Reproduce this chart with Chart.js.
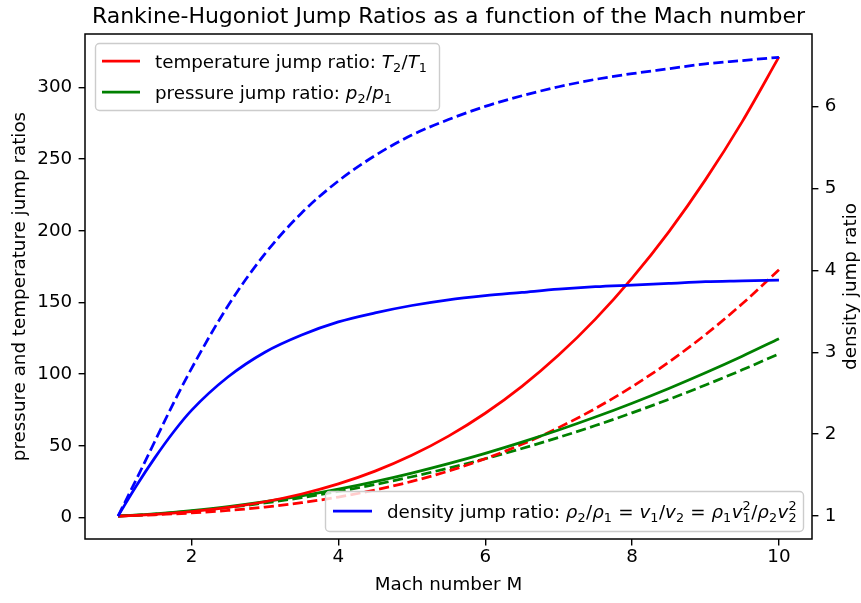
<!DOCTYPE html>
<html>
<head>
<meta charset="utf-8">
<script src="https://cdn.jsdelivr.net/npm/chart.js@4/dist/chart.umd.min.js"></script>
<style>
  html, body { margin: 0; padding: 0; background: #fff; }
</style>
</head>
<body>
<canvas id="jumpChart" width="861" height="603"></canvas>
<script>
// Mach numbers sampled along the curves
const mach = [1, 1.25, 1.5, 1.75, 2, 2.5, 3, 3.5, 4, 4.5, 5, 5.5, 6, 6.5, 7, 7.5, 8, 8.5, 9, 9.5, 10];

// solid curves
const tempSolid = [1, 1.55, 2.24, 3.10, 4.16, 7.00, 11.0, 16.41, 23.45, 32.37, 43.41, 56.77, 72.72, 91.47, 113.3, 138.4, 167.0, 199.3, 235.7, 276.2, 321.3];
const pressSolid = [1, 1.70, 2.56, 3.58, 4.75, 7.56, 11.0, 15.06, 19.75, 25.06, 31.0, 37.56, 44.75, 52.56, 61.0, 70.06, 79.75, 90.06, 101.0, 112.56, 124.75];
const densSolid = [1, 1.37, 1.71, 2.02, 2.29, 2.70, 3.0, 3.21, 3.37, 3.48, 3.57, 3.64, 3.69, 3.73, 3.77, 3.80, 3.82, 3.84, 3.86, 3.87, 3.88];

// dashed curves
const tempDashed = [1, 1.42, 1.91, 2.48, 3.16, 4.90, 7.25, 10.32, 14.26, 19.17, 25.18, 32.42, 41.0, 51.05, 62.70, 76.06, 91.25, 108.4, 127.6, 149.1, 172.8];
const pressDashed = [1, 1.64, 2.43, 3.36, 4.43, 7.0, 10.14, 13.86, 18.14, 23.0, 28.43, 34.43, 41.0, 48.14, 55.86, 64.14, 73.0, 82.43, 92.43, 103.0, 114.14];
const densDashed = [1, 1.45, 1.91, 2.37, 2.80, 3.57, 4.20, 4.70, 5.09, 5.40, 5.65, 5.84, 6.00, 6.13, 6.24, 6.33, 6.40, 6.46, 6.52, 6.56, 6.60];

const xTicks = [2, 4, 6, 8, 10];
const leftTicks = [0, 50, 100, 150, 200, 250, 300];
const rightTicks = [1, 2, 3, 4, 5, 6];

const titleText = 'Rankine-Hugoniot Jump Ratios as a function of the Mach number';
const xLabel = 'Mach number M';
const leftLabel = 'pressure and temperature jump ratios';
const rightLabel = 'density jump ratio';

// legend labels, split into plain / italic / sub / sup pieces for the math
const tempLegend = [{t: 'temperature jump ratio: '}, {t: 'T', it: 1}, {t: '2', sub: 1}, {t: '/'}, {t: 'T', it: 1}, {t: '1', sub: 1}];
const pressLegend = [{t: 'pressure jump ratio: '}, {t: 'p', it: 1}, {t: '2', sub: 1}, {t: '/'}, {t: 'p', it: 1}, {t: '1', sub: 1}];
const densLegend = [{t: 'density jump ratio: '}, {t: 'ρ', it: 1}, {t: '2', sub: 1}, {t: '/'}, {t: 'ρ', it: 1}, {t: '1', sub: 1},
  {t: ' = '}, {t: 'v', it: 1}, {t: '1', sub: 1}, {t: '/'}, {t: 'v', it: 1}, {t: '2', sub: 1}, {t: ' = '},
  {t: 'ρ', it: 1}, {t: '1', sub: 1}, {t: 'v', it: 1}, {t: '1', sub: 1, sup: '2'}, {t: '/'},
  {t: 'ρ', it: 1}, {t: '2', sub: 1}, {t: 'v', it: 1}, {t: '2', sub: 1, sup: '2'}];

const FONT = 'DejaVu Sans';
const FS = 18.3;
Chart.defaults.font.family = FONT;
Chart.defaults.font.size = FS;
Chart.defaults.color = '#000';

const pts = (ys) => mach.map((m, i) => ({x: m, y: ys[i]}));
const dash = [10.2, 4.4];

function line(data, color, axis, dashed) {
  return {
    data: pts(data),
    borderColor: color,
    backgroundColor: color,
    borderWidth: 2.75,
    borderDash: dashed ? dash : [],
    pointRadius: 0,
    cubicInterpolationMode: 'monotone',
    yAxisID: axis,
    fill: false
  };
}

function richText(ctx, segs, x, yBase) {
  const small = FS * 0.7;
  for (const s of segs) {
    if (s.sub) {
      ctx.font = small + 'px "' + FONT + '"';
      const w1 = ctx.measureText(s.t).width;
      ctx.fillText(s.t, x, yBase + 4);
      let w2 = 0;
      if (s.sup) {
        w2 = ctx.measureText(s.sup).width;
        ctx.fillText(s.sup, x, yBase - 8);
      }
      x += Math.max(w1, w2) + 0.5;
    } else {
      ctx.font = (s.it ? 'italic ' : '') + FS + 'px "' + FONT + '"';
      ctx.fillText(s.t, x, yBase);
      x += ctx.measureText(s.t).width;
    }
  }
}

function legendBox(ctx, x0, y0, x1, y1) {
  ctx.save();
  ctx.beginPath();
  ctx.roundRect(x0 + 0.5, y0 + 0.5, x1 - x0, y1 - y0, 4);
  ctx.fillStyle = 'rgba(255,255,255,0.8)';
  ctx.fill();
  ctx.strokeStyle = '#cccccc';
  ctx.lineWidth = 1.4;
  ctx.stroke();
  ctx.restore();
}

function legendRow(ctx, color, segs, hx0, hx1, tx, yc) {
  ctx.save();
  ctx.strokeStyle = color;
  ctx.lineWidth = 2.75;
  ctx.beginPath();
  ctx.moveTo(hx0, yc);
  ctx.lineTo(hx1, yc);
  ctx.stroke();
  ctx.fillStyle = '#000';
  ctx.textBaseline = 'alphabetic';
  richText(ctx, segs, tx, yc + 6.5);
  ctx.restore();
}

const decorations = {
  id: 'decorations',
  afterDatasetsDraw(chart) {
    const ctx = chart.ctx;
    const a = chart.chartArea;
    // frame
    ctx.save();
    ctx.strokeStyle = '#000';
    ctx.lineWidth = 1.5;
    ctx.strokeRect(a.left, a.top, a.right - a.left, a.bottom - a.top);
    ctx.restore();

    // upper-left legend
    legendBox(ctx, 95, 43, 439, 110);
    legendRow(ctx, '#ff0000', tempLegend, 102, 140, 155, 61);
    legendRow(ctx, '#008000', pressLegend, 102, 140, 155, 92);

    // lower-right legend
    legendBox(ctx, 325, 491, 803, 531);
    legendRow(ctx, '#0000ff', densLegend, 333, 372, 387, 511);

    // title
    ctx.save();
    ctx.fillStyle = '#000';
    ctx.font = '22px "' + FONT + '"';
    ctx.textAlign = 'center';
    ctx.textBaseline = 'alphabetic';
    ctx.fillText(titleText, (a.left + a.right) / 2, 23);
    // right axis label, reading upward
    ctx.translate(851, (a.top + a.bottom) / 2);
    ctx.rotate(-Math.PI / 2);
    ctx.font = FS + 'px "' + FONT + '"';
    ctx.textBaseline = 'middle';
    ctx.fillText(rightLabel, 0, 0);
    ctx.restore();
  }
};

const tickGrid = {drawOnChartArea: false, color: '#000', tickLength: 6.4, lineWidth: 1.4};

new Chart(document.getElementById('jumpChart'), {
  type: 'line',
  data: {
    datasets: [
      line(densSolid, '#0000ff', 'yR', false),
      line(densDashed, '#0000ff', 'yR', true),
      line(tempSolid, '#ff0000', 'yL', false),
      line(pressSolid, '#008000', 'yL', false),
      line(tempDashed, '#ff0000', 'yL', true),
      line(pressDashed, '#008000', 'yL', true)
    ]
  },
  options: {
    responsive: false,
    animation: false,
    devicePixelRatio: 1,
    layout: {padding: {top: 34, left: 0, right: 0, bottom: 0}},
    plugins: {legend: {display: false}, tooltip: {enabled: false}, title: {display: false}},
    scales: {
      x: {
        type: 'linear',
        min: 0.55,
        max: 10.45,
        grid: tickGrid,
        border: {display: false},
        afterBuildTicks: (s) => { s.ticks = xTicks.map(v => ({value: v})); },
        afterFit: (s) => { s.height = 64; },
        ticks: {padding: 1, maxRotation: 0, autoSkip: false},
        title: {display: true, text: xLabel, padding: {top: 0, bottom: 7}}
      },
      yL: {
        type: 'linear',
        position: 'left',
        min: -15,
        max: 337.3,
        grid: tickGrid,
        border: {display: false},
        afterBuildTicks: (s) => { s.ticks = leftTicks.map(v => ({value: v})); },
        afterFit: (s) => { s.width = 85; },
        ticks: {padding: 6.4, autoSkip: false},
        title: {display: true, text: leftLabel, padding: {top: 9, bottom: 0}}
      },
      yR: {
        type: 'linear',
        position: 'right',
        min: 0.72,
        max: 6.884,
        grid: tickGrid,
        border: {display: false},
        afterBuildTicks: (s) => { s.ticks = rightTicks.map(v => ({value: v})); },
        afterFit: (s) => { s.width = 49; },
        ticks: {padding: 6.4, autoSkip: false}
      }
    }
  },
  plugins: [decorations]
});
</script>
</body>
</html>
